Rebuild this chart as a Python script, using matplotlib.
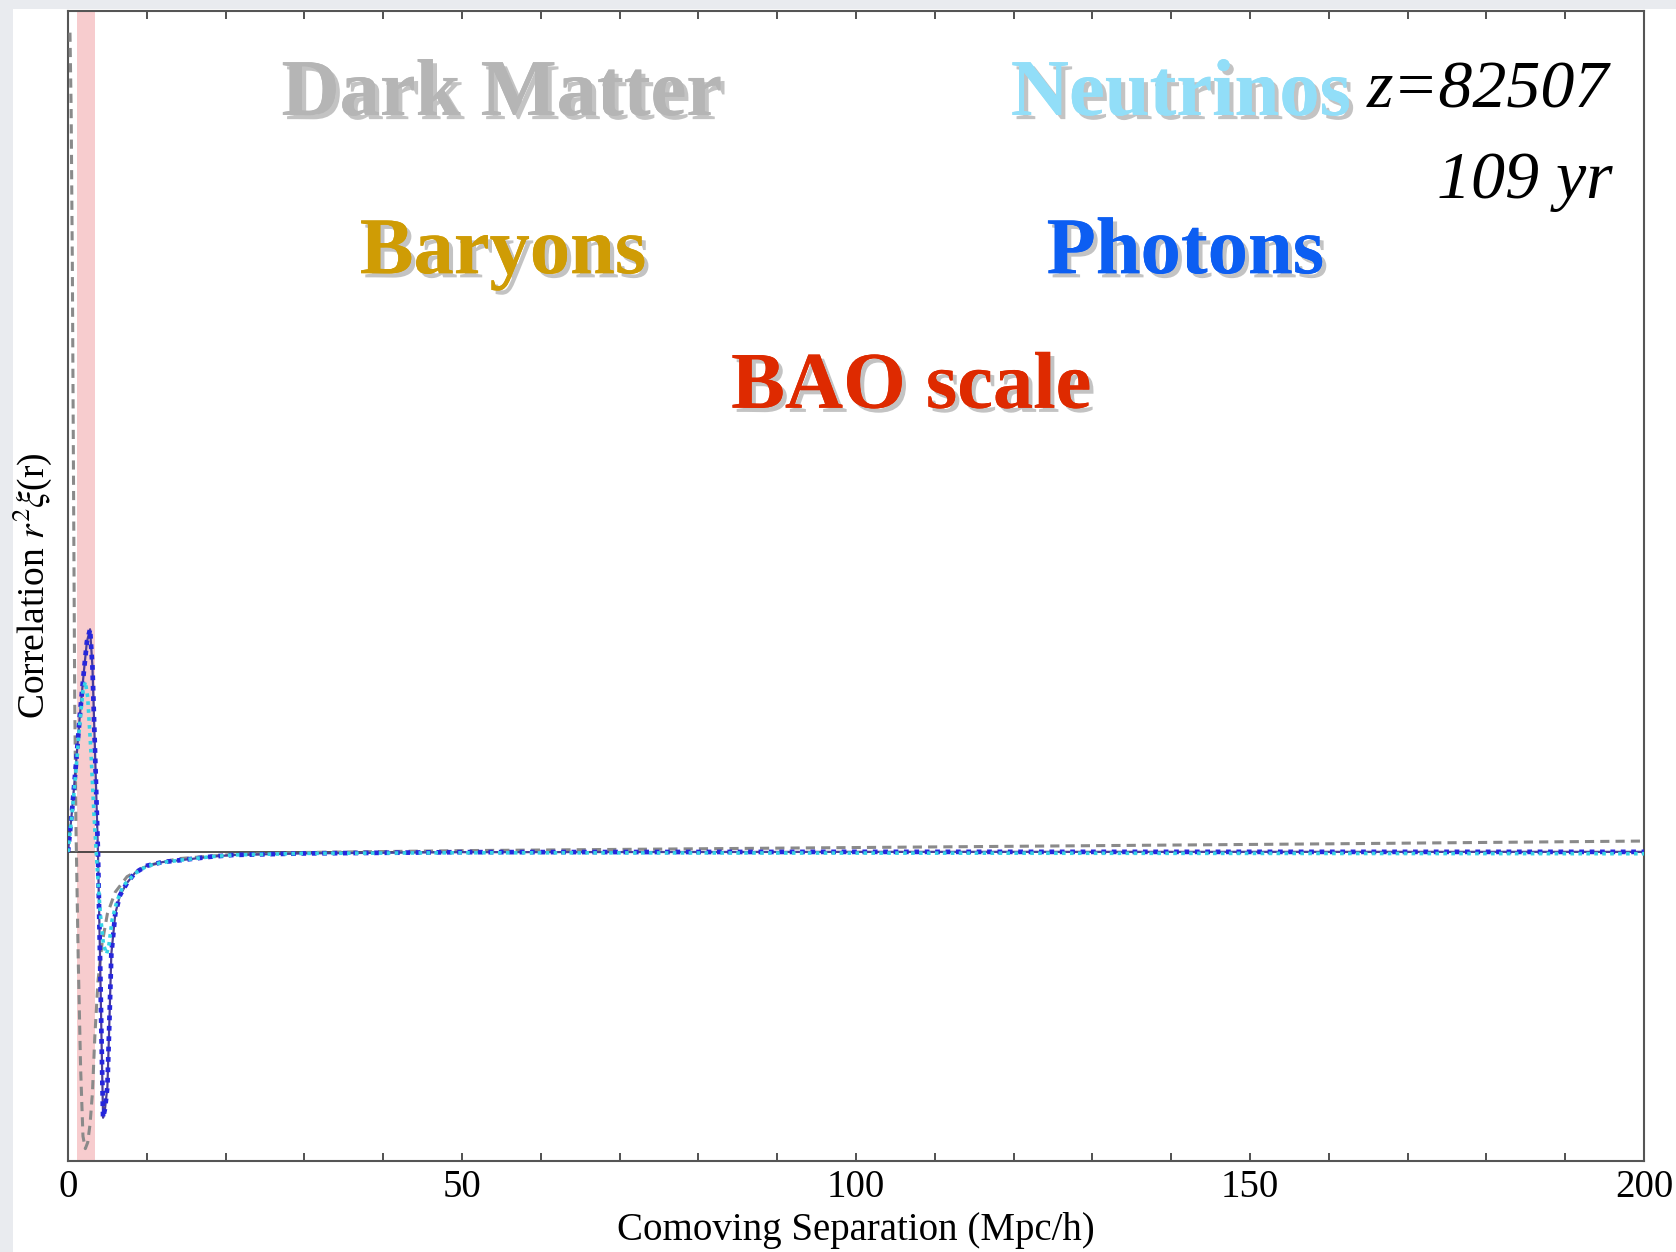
import matplotlib
matplotlib.use("Agg")
import matplotlib.pyplot as plt
import matplotlib.patheffects as pe
from matplotlib.patches import Rectangle
from matplotlib.ticker import MultipleLocator, FuncFormatter

plt.rcParams["font.family"] = ["Liberation Serif", "DejaVu Serif"]
plt.rcParams["mathtext.fontset"] = "stix"

# values (r in Mpc/h, y in arbitrary units, 0 = zero line)
r_dm = [0.25, 0.4, 0.55, 0.7, 0.85, 1.0, 1.3, 1.6, 1.9, 2.2, 2.5, 2.8, 3.1, 3.4,
        3.8, 4.3, 5.0, 6.0, 7.5, 10, 14, 20, 30, 50, 80, 120, 160, 200]
dm = [2.65, 2.4, 1.9, 1.2, 0.5, 0.1, -0.35, -0.7, -0.92, -0.96, -0.94, -0.88, -0.78, -0.6,
      -0.42, -0.3, -0.2, -0.13, -0.08, -0.045, -0.022, -0.01, -0.002, 0.004, 0.01, 0.018, 0.026, 0.035]

r_ph = [0, 0.5, 1.0, 1.5, 2.0, 2.4, 2.8, 3.1, 3.4, 3.8, 4.05, 4.25, 4.45, 4.7, 5.0,
        5.25, 5.5, 6.0, 6.6, 7.5, 8.5, 10, 12, 14.6, 18, 21, 30, 50, 100, 200]
photon = [0.0, 0.13, 0.28, 0.44, 0.58, 0.68, 0.72, 0.6, 0.35, 0.0, -0.32, -0.6, -0.86, -0.83, -0.76,
          -0.55, -0.33, -0.2, -0.14, -0.1, -0.068, -0.045, -0.033, -0.026, -0.016, -0.01, -0.005, -0.001, 0.0, 0.0]
baryon = list(photon)  # tightly coupled, sits under the photon curve

r_nu = [0, 0.5, 1.0, 1.5, 1.9, 2.2, 2.5, 2.9, 3.3, 3.7, 4.1, 4.5, 4.9, 5.2, 5.6,
        6.2, 7.0, 8.5, 10, 12, 14.6, 18, 21, 30, 50, 100, 200]
neutrino = [0.0, 0.12, 0.26, 0.42, 0.52, 0.55, 0.5, 0.33, 0.12, -0.05, -0.2, -0.3, -0.33, -0.3, -0.22,
            -0.16, -0.11, -0.07, -0.046, -0.034, -0.026, -0.016, -0.01, -0.005, -0.003, -0.004, -0.006]

bao_band = (1.15, 3.4)

fig = plt.figure(figsize=(16.76, 12.52), dpi=100)
fig.patch.set_facecolor("#e9ebef")
fig.add_artist(Rectangle((13 / 1676, 0), 1, 1 - 9 / 1252, transform=fig.transFigure,
                         facecolor="white", edgecolor="none", zorder=-5))

ax = fig.add_axes([68 / 1676, 91 / 1252, 1576 / 1676, 1150 / 1252])
ax.set_zorder(1)
ax.axvspan(bao_band[0], bao_band[1], color="#f6c4c6", alpha=0.85, lw=0, zorder=1)
ax.axhline(0, color="#222222", lw=1.1, zorder=2)

ax.plot(r_dm, dm, color="#8a8a8a", lw=2.2, ls=(0, (3, 2)), zorder=3)
ax.plot(r_ph, baryon, color="#4a3c9a", lw=1.6, zorder=4)
ax.plot(r_ph, photon, color="#2626dc", lw=3.4, ls=(0, (1, 1.2)), zorder=5)
ax.plot(r_nu, neutrino, color="#35d4e6", lw=2.6, ls=(0, (1, 1.2)), zorder=6)

ax.set_xlim(0, 200)
ax.set_ylim(-1, 2.72)
ax.xaxis.set_major_locator(MultipleLocator(10))
ax.xaxis.set_major_formatter(FuncFormatter(lambda v, p: "%d" % v if v % 50 == 0 else ""))
ax.tick_params(axis="x", direction="in", top=True, length=6, width=1.2, labelsize=28,
               pad=6, color="#333333")
ax.set_yticks([])
for s in ax.spines.values():
    s.set_color("#555555")
    s.set_linewidth(1.5)

ax.set_xlabel("Comoving Separation (Mpc/h)", fontsize=28, labelpad=4)
ax.set_ylabel(r"Correlation $r^2\xi$(r)", fontsize=27, labelpad=10)

shadow = [pe.withSimplePatchShadow(offset=(3, -3), shadow_rgbFace="#555555", alpha=0.35), pe.Normal()]
labels = [
    ("Dark Matter", 0.275, 0.9096, "#b5b5b5"),
    ("Neutrinos", 0.706, 0.9096, "#92def8"),
    ("Baryons", 0.276, 0.772, "#cf9c05"),
    ("Photons", 0.709, 0.772, "#0c5ef2"),
    ("BAO scale", 0.535, 0.655, "#de2a00"),
]
for txt, x, y, c in labels:
    ax.text(x, y, txt, transform=ax.transAxes, ha="center", va="baseline", fontsize=58,
            fontweight="bold", color=c, path_effects=shadow, zorder=10)

ax.text(0.978, 0.9165, "z=82507", transform=ax.transAxes, ha="right", va="baseline",
        fontsize=49, style="italic", color="black", zorder=10)
ax.text(0.98, 0.837, "109 yr", transform=ax.transAxes, ha="right", va="baseline",
        fontsize=49, style="italic", color="black", zorder=10)

fig.savefig("out.png", dpi=100, facecolor=fig.get_facecolor())
